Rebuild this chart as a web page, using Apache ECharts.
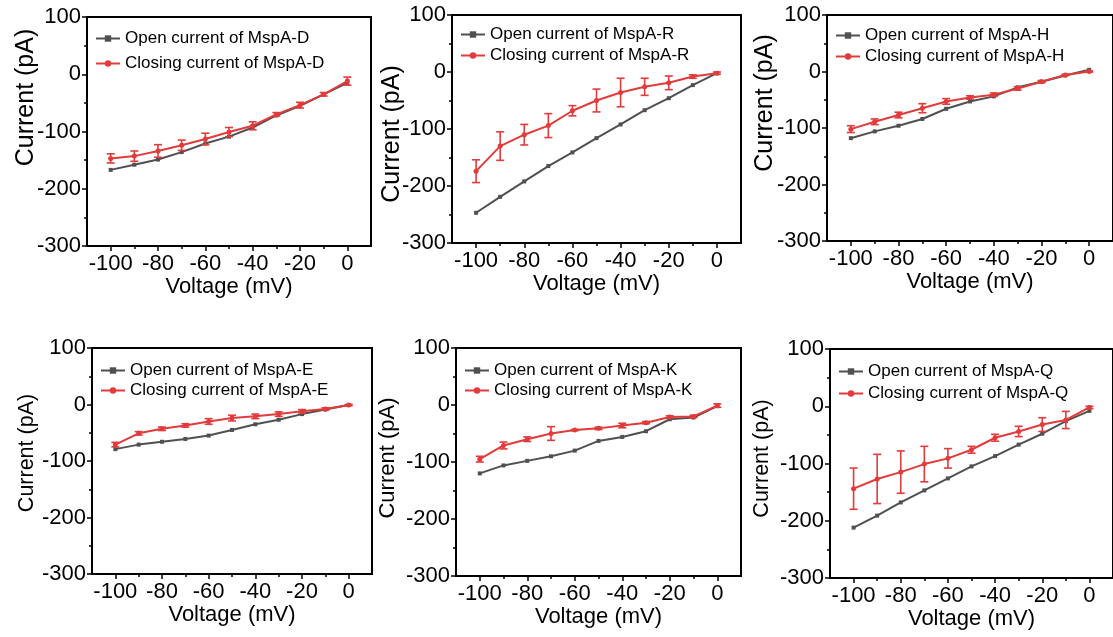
<!DOCTYPE html>
<html>
<head>
<meta charset="utf-8">
<script src="https://cdn.jsdelivr.net/npm/echarts@6/dist/echarts.min.js"></script>
<style>
html,body{margin:0;padding:0;background:#fff;}
#chart{width:1113px;height:637px;}
</style>
</head>
<body>
<div id="chart"></div>
<script>
// ---- data ----
const voltages = [-100, -90, -80, -70, -60, -50, -40, -30, -20, -10, 0];
const xTickLabels = [-100, -80, -60, -40, -20, 0];
const xMinorTicks = [-90, -70, -50, -30, -10];
const panelNames = ['D', 'R', 'H', 'E', 'K', 'Q'];

const openD  = [-167, -158, -149, -136, -121, -109, -93, -72, -55, -35, -15];
const closeD = [-147, -143, -134, -124, -113, -101, -90, -70, -54, -35, -12];
const errD   = [8, 9, 11, 9, 10, 8, 7, 3, 5, 3, 7];

const openR  = [-247, -219, -192, -165, -141, -116, -92, -67, -46, -23, -2];
const closeR = [-174, -130, -110, -94, -68, -50, -36, -26, -19, -8, -2];
const errR   = [20, 25, 18, 21, 9, 20, 25, 15, 12, 3, 2];

const openH  = [-118, -106, -96, -84, -66, -53, -44, -28, -18, -7, 3];
const closeH = [-102, -89, -77, -65, -53, -46, -41, -30, -18, -6, 0];
const errH   = [6, 5, 5, 8, 5, 3, 3, 3, 2, 1, 1];

const openE  = [-79, -71, -66, -61, -55, -45, -35, -27, -17, -9, -1];
const closeE = [-71, -51, -43, -37, -30, -24, -21, -17, -12, -8, -1];
const errE   = [4, 3, 3, 3, 5, 5, 4, 4, 3, 2, 1];

const openK  = [-120, -106, -98, -90, -80, -63, -56, -46, -25, -22, -2];
const closeK = [-95, -71, -60, -50, -44, -41, -36, -31, -21, -20, -1];
const errK   = [5, 6, 4, 12, 1, 2, 4, 2, 2, 2, 3];

const openQ  = [-212, -191, -168, -147, -126, -105, -87, -67, -48, -26, -8];
const closeQ = [-144, -127, -115, -101, -91, -76, -55, -44, -32, -24, -2];
const errQ   = [36, 43, 37, 31, 17, 6, 6, 9, 12, 15, 2];

const openSets  = [openD, openR, openH, openE, openK, openQ];
const closeSets = [closeD, closeR, closeH, closeE, closeK, closeQ];
const errSets   = [errD, errR, errH, errE, errK, errQ];

// ---- layout / style ----
const grids = [
  {left: 87,  top: 17,  width: 284, height: 229},
  {left: 452, top: 15,  width: 289, height: 228},
  {left: 827, top: 15,  width: 286, height: 226},
  {left: 92,  top: 348, width: 280, height: 226},
  {left: 456, top: 348, width: 285, height: 228},
  {left: 830, top: 349, width: 289, height: 229}
];
// y-title: font size, gap, shift up along axis (px)
const yTitleStyle = [
  {size: 25, gap: 48, up: 34},
  {size: 25, gap: 47, up: -5},
  {size: 25, gap: 49, up: 25},
  {size: 21.5, gap: 54, up: 8},
  {size: 22, gap: 57, up: 4},
  {size: 21.5, gap: 57, up: 5}
];
// legend: top offset, item gap
const legendStyle = [
  {top: 13, gap: 8},
  {top: 11, gap: 4},
  {top: 12, gap: 4},
  {top: 14, gap: 3},
  {top: 14, gap: 3},
  {top: 14, gap: 5}
];
const GREY = '#505050';
const RED = '#e23b3b';
const FONT = 'Liberation Sans, Arial, sans-serif';

const option = {
  animation: false,
  backgroundColor: '#ffffff',
  grid: [], xAxis: [], yAxis: [], series: [], legend: []
};

panelNames.forEach(function (nm, i) {
  const g = grids[i];
  const yt = yTitleStyle[i];
  const ls = legendStyle[i];
  const pad = yt.up >= 0 ? [0, 0, 0, 2 * yt.up] : [0, -2 * yt.up, 0, 0];
  option.grid.push({left: g.left, top: g.top, width: g.width, height: g.height,
    show: true, borderColor: '#000', borderWidth: 2, backgroundColor: 'transparent'});
  // main x axis
  option.xAxis.push({
    type: 'value', gridIndex: i, min: -110, max: 10, position: 'bottom',
    name: 'Voltage (mV)', nameLocation: 'middle', nameGap: 30, nameMoveOverlap: false,
    nameTextStyle: {fontSize: 22, color: '#000', fontFamily: FONT},
    axisLine: {show: true, onZero: false, lineStyle: {color: '#000', width: 2}},
    axisTick: {show: true, inside: false, length: 5, customValues: xTickLabels, lineStyle: {color: '#000', width: 1.5}},
    axisLabel: {show: true, customValues: xTickLabels, fontSize: 22, color: '#000', fontFamily: FONT, margin: 7},
    splitLine: {show: false}
  });
  // minor x ticks
  option.xAxis.push({
    type: 'value', gridIndex: i, min: -110, max: 10, position: 'bottom',
    axisLine: {show: false, onZero: false},
    axisTick: {show: true, inside: false, length: 3, customValues: xMinorTicks, lineStyle: {color: '#000', width: 1.5}},
    axisLabel: {show: false},
    splitLine: {show: false}
  });
  option.yAxis.push({
    type: 'value', gridIndex: i, min: -300, max: 100, interval: 100,
    name: 'Current (pA)', nameLocation: 'middle', nameGap: yt.gap, nameMoveOverlap: false,
    nameTextStyle: {fontSize: yt.size, color: '#000', fontFamily: FONT, padding: pad},
    axisLine: {show: true, onZero: false, lineStyle: {color: '#000', width: 2}},
    axisTick: {show: true, inside: false, length: 5, lineStyle: {color: '#000', width: 1.5}},
    minorTick: {show: true, splitNumber: 2, length: 3, lineStyle: {color: '#000', width: 1.5}},
    axisLabel: {fontSize: 22, color: '#000', fontFamily: FONT, margin: 6},
    splitLine: {show: false}
  });
  const openName = 'Open current of MspA-' + nm;
  const closeName = 'Closing current of MspA-' + nm;
  option.series.push({
    name: openName, type: 'line', xAxisIndex: 2 * i, yAxisIndex: i,
    data: voltages.map(function (v, k) { return [v, openSets[i][k]]; }),
    symbol: 'rect', symbolSize: 4, showSymbol: true,
    lineStyle: {color: GREY, width: 2}, itemStyle: {color: GREY}, z: 2
  });
  option.series.push({
    name: closeName, type: 'line', xAxisIndex: 2 * i, yAxisIndex: i,
    data: voltages.map(function (v, k) { return [v, closeSets[i][k]]; }),
    symbol: 'circle', symbolSize: 5, showSymbol: true,
    lineStyle: {color: RED, width: 2}, itemStyle: {color: RED}, z: 3
  });
  option.series.push({
    type: 'custom', xAxisIndex: 2 * i, yAxisIndex: i, z: 4,
    data: voltages.map(function (v, k) {
      return [v, closeSets[i][k] - errSets[i][k], closeSets[i][k] + errSets[i][k]];
    }),
    encode: {x: 0, y: [1, 2]},
    renderItem: function (params, api) {
      const x = api.value(0);
      const pLo = api.coord([x, api.value(1)]);
      const pHi = api.coord([x, api.value(2)]);
      const w = 4;
      const st = {stroke: RED, lineWidth: 1.6};
      return {type: 'group', children: [
        {type: 'line', shape: {x1: pLo[0], y1: pLo[1], x2: pHi[0], y2: pHi[1]}, style: st},
        {type: 'line', shape: {x1: pLo[0] - w, y1: pLo[1], x2: pLo[0] + w, y2: pLo[1]}, style: st},
        {type: 'line', shape: {x1: pHi[0] - w, y1: pHi[1], x2: pHi[0] + w, y2: pHi[1]}, style: st}
      ]};
    },
    silent: true
  });
  option.legend.push({
    data: [openName, closeName], orient: 'vertical',
    left: g.left + 8, top: g.top + ls.top, padding: 0,
    itemWidth: 24, itemHeight: 8, itemGap: ls.gap,
    textStyle: {fontSize: 17, color: '#000', fontFamily: FONT}
  });
});

const chart = echarts.init(document.getElementById('chart'), null, {renderer: 'canvas'});
chart.setOption(option);
</script>
</body>
</html>
